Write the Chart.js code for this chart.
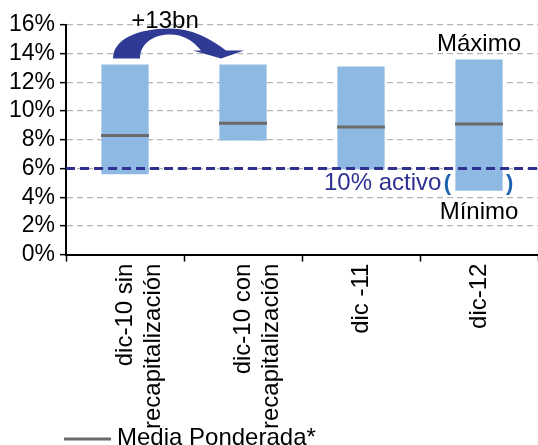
<!DOCTYPE html>
<html lang="es">
<head>
<meta charset="utf-8">
<title>Rango de ratios de capital</title>
<script src="https://cdn.jsdelivr.net/npm/chart.js@4.4.1/dist/chart.umd.min.js"></script>
<style>
  html, body { margin: 0; padding: 0; background: #fff; overflow: hidden; }
  #wrap { width: 538px; height: 445px; position: relative; }
</style>
</head>
<body>
<div id="wrap"><canvas id="rangeChart"></canvas></div>
<script>
// ---------------- DATA ----------------
const categories = [
  ["dic-10 sin", "recapitalización"],
  ["dic-10 con", "recapitalización"],
  "dic -11",
  "dic-12"
];
const minimo = [5.6, 7.95, 5.95, 4.45];
const maximo = [13.25, 13.25, 13.1, 13.6];
const mediaPonderada = [8.3, 9.15, 8.9, 9.1];
const yMin = 0, yMax = 16, yStep = 2;
const umbral = 6;
const umbralLabel = "10% activo";
const flechaLabel = "+13bn";
const maxLabel = "Máximo";
const minLabel = "Mínimo";
const legendLabel = "Media Ponderada*";

// ---------------- STYLE ----------------
const FONT = "'Liberation Sans', Arial, sans-serif";
const NAVY = "#2e3192";
const BAR_BLUE = "#8db9e3";
const MEDIAN_GREY = "#6b6b6b";
const BRACKET_BLUE = "#1c63b0";

// overlay: 6% dashed line, curved arrow, text notes, legend
const overlayPlugin = {
  id: "overlay",
  afterDatasetsDraw(chart) {
    const { ctx, chartArea, scales: { y } } = chart;
    const bars = chart.getDatasetMeta(1).data;

    // threshold line
    const yT = y.getPixelForValue(umbral);
    ctx.save();
    ctx.strokeStyle = NAVY;
    ctx.lineWidth = 3;
    ctx.setLineDash([9, 5]);
    ctx.beginPath();
    ctx.moveTo(chartArea.left, yT);
    ctx.lineTo(chartArea.right, yT);
    ctx.stroke();
    ctx.setLineDash([]);

    // curved arrow from bar 1 to bar 2
    const L = bars[0].x, R = bars[1].x;
    const y0 = y.getPixelForValue(maximo[0]) - 6;
    ctx.fillStyle = "#2e3a94";
    ctx.beginPath();
    ctx.moveTo(L - 12, y0);
    ctx.bezierCurveTo(L - 12, y0 - 18, L + 10, y0 - 30, L + 45, y0 - 30);
    ctx.bezierCurveTo(L + 67, y0 - 30, L + 85, y0 - 20, R - 17, y0 - 8);
    ctx.lineTo(R + 1, y0 - 8);
    ctx.lineTo(R - 22, y0);
    ctx.lineTo(R - 50, y0 - 8);
    ctx.lineTo(R - 42, y0 - 8);
    ctx.bezierCurveTo(R - 50, y0 - 18, R - 60, y0 - 24, L + 45, y0 - 24);
    ctx.bezierCurveTo(L + 27, y0 - 24, L + 15, y0 - 14, L + 15, y0);
    ctx.closePath();
    ctx.fill();

    ctx.textBaseline = "alphabetic";
    ctx.font = "24px " + FONT;
    ctx.fillStyle = "#000";
    ctx.textAlign = "center";
    ctx.fillText(flechaLabel, L + 40, y0 - 30);

    // max / min notes over the last bar
    const last = bars[bars.length - 1];
    ctx.fillText(maxLabel, last.x, y.getPixelForValue(maximo[3]) - 8);
    ctx.fillText(minLabel, last.x, y.getPixelForValue(minimo[3]) + 28);

    // threshold note with brackets around the last bar
    const base = y.getPixelForValue(minimo[3]) - 1;
    const left = last.x - last.width / 2;
    const right = last.x + last.width / 2;
    ctx.fillStyle = NAVY;
    ctx.textAlign = "right";
    ctx.fillText(umbralLabel, left - 14, base);
    ctx.fillStyle = BRACKET_BLUE;
    ctx.font = "bold 22px " + FONT;
    ctx.textAlign = "center";
    ctx.fillText("(", left - 8, base);
    ctx.fillText(")", right + 7, base);

    // legend: grey line sample + label, under the axis labels
    const ds = chart.data.datasets[0];
    const ly = chart.height - 6;
    ctx.strokeStyle = ds.borderColor;
    ctx.lineWidth = ds.borderWidth;
    ctx.beginPath();
    ctx.moveTo(chartArea.left - 2, ly);
    ctx.lineTo(chartArea.left + 45, ly);
    ctx.stroke();
    ctx.fillStyle = "#000";
    ctx.font = "24px " + FONT;
    ctx.textAlign = "left";
    ctx.textBaseline = "middle";
    ctx.fillText(ds.label, chartArea.left + 51, ly - 1);
    ctx.restore();
  }
};

new Chart(document.getElementById("rangeChart"), {
  data: {
    labels: categories,
    datasets: [
      {
        type: "line",
        label: legendLabel,
        data: mediaPonderada,
        showLine: false,
        pointStyle: "line",
        pointRadius: 24,
        pointHoverRadius: 24,
        borderWidth: 3,
        borderColor: MEDIAN_GREY,
        order: 0
      },
      {
        type: "bar",
        label: "Rango",
        data: categories.map((_, i) => [minimo[i], maximo[i]]),
        backgroundColor: BAR_BLUE,
        borderWidth: 0,
        categoryPercentage: 0.4,
        barPercentage: 1,
        order: 1
      }
    ]
  },
  options: {
    responsive: true,
    maintainAspectRatio: false,
    animation: false,
    events: [],
    layout: { autoPadding: false, padding: { top: 25, left: 4, right: 0, bottom: 14 } },
    scales: {
      x: {
        afterFit(scale) { scale.paddingRight = 0; },
        grid: {
          offset: true,
          drawOnChartArea: false,
          tickLength: 7,
          tickColor: "#000",
          tickWidth: 1.5
        },
        border: { color: "#000", width: 2 },
        ticks: {
          color: "#000",
          font: { family: FONT, size: 24 },
          maxRotation: 90,
          minRotation: 90,
          padding: 2,
          autoSkip: false
        }
      },
      y: {
        min: yMin,
        max: yMax,
        grid: {
          color: "#b5b5b5",
          lineWidth: 1.3,
          tickLength: 6,
          tickColor: "#000",
          tickWidth: 1.5,
          tickBorderDash: []
        },
        border: { color: "#000", width: 2, dash: [6, 4] },
        ticks: {
          stepSize: yStep,
          autoSkip: false,
          color: "#000",
          padding: 5,
          font: { family: FONT, size: 23 },
          callback: v => v + "%"
        }
      }
    },
    plugins: {
      tooltip: { enabled: false },
      legend: { display: false }
    }
  },
  plugins: [overlayPlugin]
});
</script>
</body>
</html>
